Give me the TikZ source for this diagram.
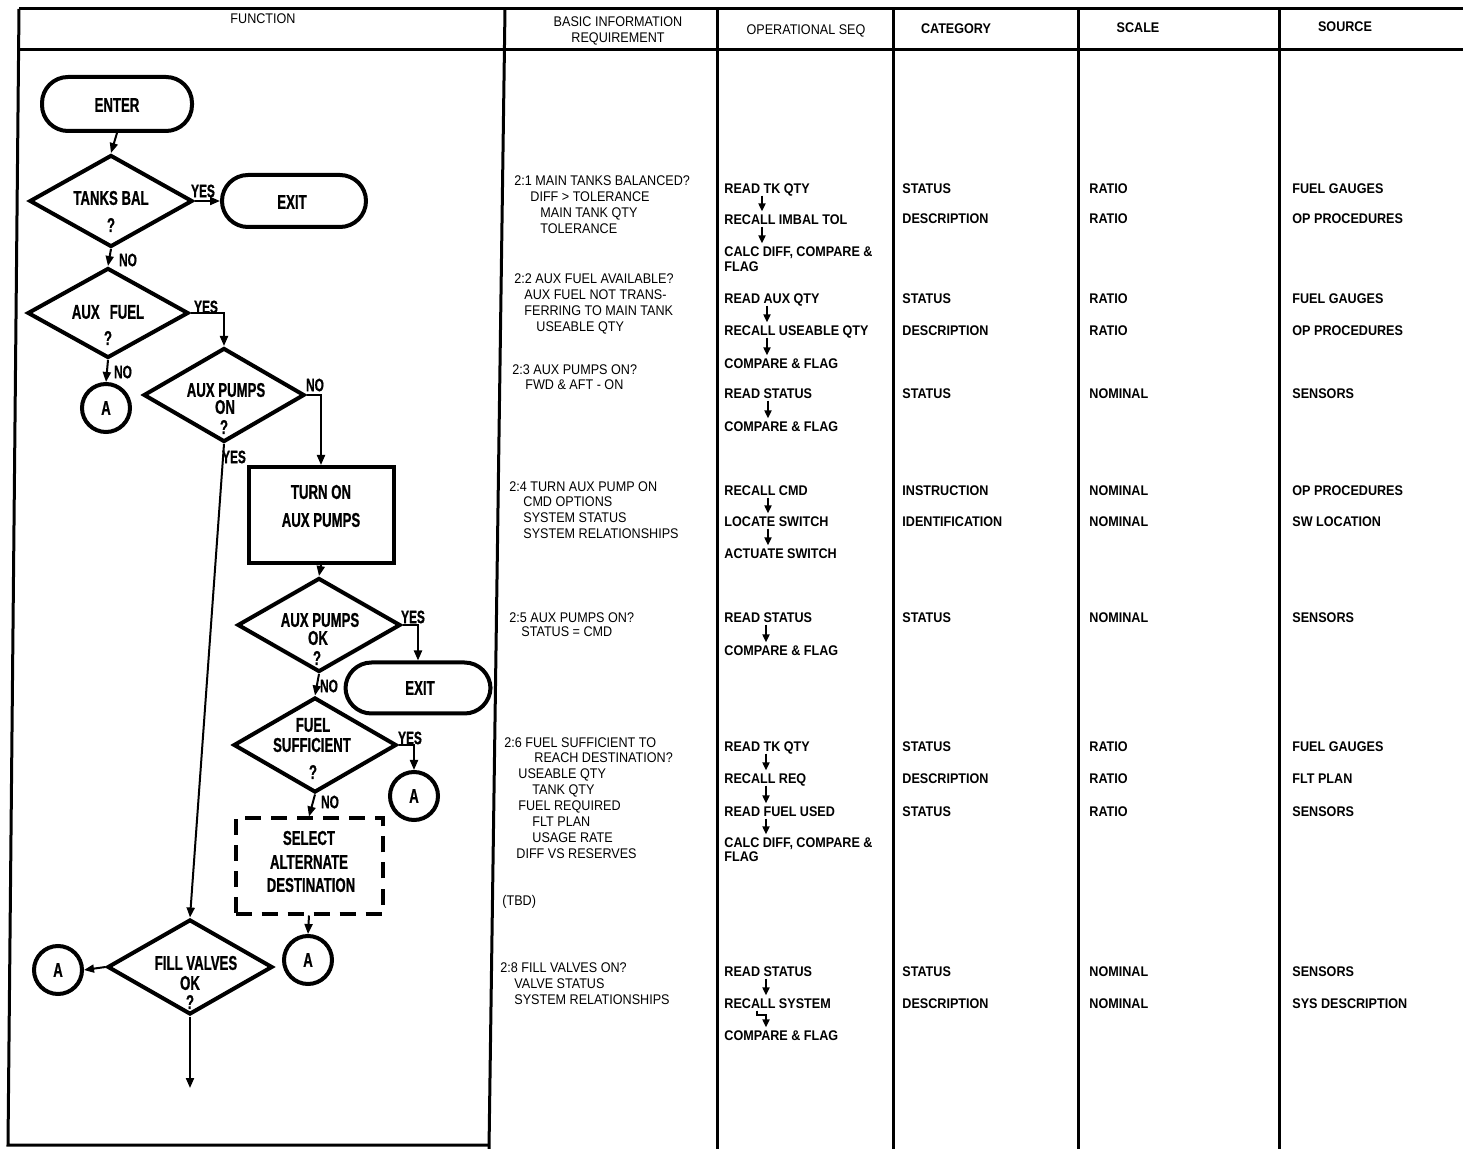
\documentclass[tikz,border=0pt]{standalone}
\usepackage{fontspec}
\setmainfont{Liberation Sans}
\newfontfamily\flowfont[FakeStretch=0.66,FakeBold=0.8]{Liberation Sans}
\newfontfamily\tabfont[FakeStretch=0.9]{Liberation Sans}
\usetikzlibrary{shapes.geometric,arrows.meta,calc}
\begin{document}
\begin{tikzpicture}[x=0.5pt,y=-0.5pt,
  ft/.style={font=\flowfont\bfseries\fontsize{10}{11}\selectfont, inner sep=0pt},
  lbl/.style={font=\flowfont\bfseries\fontsize{9}{10}\selectfont, inner sep=0pt},
  tx/.style={font=\tabfont\bfseries\fontsize{7}{8}\selectfont, anchor=west, inner sep=1pt, text height=5.2pt, text depth=0pt},
  tr/.style={font=\tabfont\fontsize{7}{8}\selectfont, anchor=west, inner sep=1pt, text height=5.2pt, text depth=0pt},
  hd/.style={font=\tabfont\fontsize{7}{8}\selectfont, align=center, inner sep=0pt},
  dia/.style={draw, diamond, line width=2pt, inner sep=0pt},
  term/.style={draw, rectangle, rounded corners=13pt, line width=2pt},
  pbox/.style={draw, rectangle, line width=2pt},
  dbox/.style={draw, rectangle, line width=2pt, dash pattern=on 8pt off 5pt},
  conn/.style={draw, circle, line width=2pt, minimum size=24pt, inner sep=0pt},
  arr/.style={line width=1pt, -{Triangle[length=5pt,width=4pt]}},
  sarr/.style={line width=0.9pt, -{Triangle[length=4pt,width=3.5pt]}},
  grid/.style={line width=1.5pt}
]
\useasboundingbox (0,0) rectangle (1463,1149);
% ---- table frame ----
\draw[grid] (19,9) -- (1463,9);
\draw[grid] (18,50) -- (1463,50);
\draw[grid] (19,9) -- (8,1145) -- (489,1145);
\draw[grid] (505,9) -- (489,1149);
\foreach \xx in {717,893,1078,1279} \draw[grid] (\xx,9) -- (\xx,1149);
% ---- header ----
\node[hd] (h1) at (263,19) {FUNCTION};
\node[hd] (h2) at (618,31) {BASIC INFORMATION\\REQUIREMENT};
\node[hd] (h3) at (806,31) {OPERATIONAL SEQ};
\node[hd,font=\tabfont\bfseries\fontsize{7}{8}\selectfont] (h4) at (956,29) {CATEGORY};
\node[hd,font=\tabfont\bfseries\fontsize{7}{8}\selectfont] (h5) at (1138,28) {SCALE};
\node[hd,font=\tabfont\bfseries\fontsize{7}{8}\selectfont] (h6) at (1345,27) {SOURCE};
% ---- flowchart shapes ----
\node[term, minimum width=75pt, minimum height=27pt] (enter) at (117,104) {};
\node[ft] (entert) at (117,105) {ENTER};
\node[dia, minimum width=81.5pt, minimum height=46pt] (tb) at (111,201) {};
\node[ft] (tbt1) at (111,198) {TANKS BAL};
\node[ft] (tbt2) at (111,225) {?};
\node[term, minimum width=72pt, minimum height=26pt] (exit1) at (294,201) {};
\node[ft] (exit1t) at (292,202) {EXIT};
\node[dia, minimum width=80.5pt, minimum height=45pt] (af) at (108,313) {};
\node[ft] (aft1) at (108,312) {AUX\enspace FUEL};
\node[ft] (aft2) at (108,338) {?};
\node[conn] (a1) at (106,408) {};
\node[ft] (a1t) at (106,408) {A};
\node[dia, minimum width=80.5pt, minimum height=47pt] (apo) at (224,395) {};
\node[ft] (apot1) at (226,390) {AUX PUMPS};
\node[ft] (apot2) at (225,407) {ON};
\node[ft] (apot3) at (224,427) {?};
\node[pbox, minimum width=72.5pt, minimum height=48pt] (tob) at (321,515) {};
\node[ft] (tobt1) at (321,492) {TURN ON};
\node[ft] (tobt2) at (321,520) {AUX PUMPS};
\node[dia, minimum width=81.5pt, minimum height=47pt] (apk) at (319,625) {};
\node[ft] (apkt1) at (320,620) {AUX PUMPS};
\node[ft] (apkt2) at (318,638) {OK};
\node[ft] (apkt3) at (317,658) {?};
\node[term, minimum width=72.5pt, minimum height=25.5pt] (exit2) at (418,688) {};
\node[ft] (exit2t) at (420,688) {EXIT};
\node[dia, minimum width=81.5pt, minimum height=47.5pt] (fs) at (315,745) {};
\node[ft] (fst1) at (313,725) {FUEL};
\node[ft] (fst2) at (312,745) {SUFFICIENT};
\node[ft] (fst3) at (313,772) {?};
\node[conn] (a2) at (414,796) {};
\node[ft] (a2t) at (414,796) {A};
\node[dbox, minimum width=73.5pt, minimum height=47.5pt] (dsel) at (309,866) {};
\node[ft] (dselt1) at (309,838) {SELECT};
\node[ft] (dselt2) at (309,862) {ALTERNATE};
\node[ft] (dselt3) at (311,885) {DESTINATION};
\node[conn] (a3) at (308,960) {};
\node[ft] (a3t) at (308,960) {A};
\node[dia, minimum width=82.5pt, minimum height=47.5pt] (fv) at (190,967) {};
\node[ft] (fvt1) at (196,963) {FILL VALVES};
\node[ft] (fvt2) at (190,983) {OK};
\node[ft] (fvt3) at (190,1002) {?};
\node[conn] (a4) at (58,970) {};
\node[ft] (a4t) at (58,970) {A};
\coordinate (fvend) at (190,1088);
% ---- flowchart connectors ----
\draw[arr] (enter.south) -- (tb.north);
\draw[arr] (tb.east) -- (exit1.west);
\node[lbl] (y1) at (203,191) {YES};
\draw[arr] (tb.south) -- (af.north);
\node[lbl] (n1) at (128,260) {NO};
\draw[arr] (af.east) -| (apo.north);
\node[lbl] (y2) at (206,307) {YES};
\draw[arr] (af.south) -- (a1.north);
\node[lbl] (n2) at (123,372) {NO};
\draw[arr] (apo.east) -| (tob.north);
\node[lbl] (n3) at (315,385) {NO};
\draw[arr] (apo.south) -- (fv.north);
\node[lbl] (y3) at (234,457) {YES};
\draw[arr] (tob.south) -- (apk.north);
\draw[arr] (apk.east) -| (exit2.north);
\node[lbl] (y4) at (413,617) {YES};
\draw[arr] (apk.south) -- (fs.north);
\node[lbl] (n4) at (329,686) {NO};
\draw[arr] (fs.east) -| (a2.north);
\node[lbl] (y5) at (410,738) {YES};
\draw[arr] (fs.south) -- (dsel.north);
\node[lbl] (n5) at (330,802) {NO};
\draw[arr] (dsel.south) -- (a3.north);
\draw[arr] (fv.west) -- (a4.east);
\draw[arr] (fv.south) -- (fvend);
% ---- basic information requirement ----
\node[tr] (b1a) at (512,180) {2:1 MAIN TANKS BALANCED?};
\node[tr] (b1b) at (528,196) {DIFF > TOLERANCE};
\node[tr] (b1c) at (538,212) {MAIN TANK QTY};
\node[tr] (b1d) at (538,228) {TOLERANCE};
\node[tr] (b2a) at (512,278) {2:2 AUX FUEL AVAILABLE?};
\node[tr] (b2b) at (522,294) {AUX FUEL NOT TRANS-};
\node[tr] (b2c) at (522,310) {FERRING TO MAIN TANK};
\node[tr] (b2d) at (534,326) {USEABLE QTY};
\node[tr] (b3a) at (510,369) {2:3 AUX PUMPS ON?};
\node[tr] (b3b) at (523,384) {FWD \& AFT - ON};
\node[tr] (b4a) at (507,486) {2:4 TURN AUX PUMP ON};
\node[tr] (b4b) at (521,501) {CMD OPTIONS};
\node[tr] (b4c) at (521,517) {SYSTEM STATUS};
\node[tr] (b4d) at (521,533) {SYSTEM RELATIONSHIPS};
\node[tr] (b5a) at (507,617) {2:5 AUX PUMPS ON?};
\node[tr] (b5b) at (519,631) {STATUS = CMD};
\node[tr] (b6a) at (502,742) {2:6 FUEL SUFFICIENT TO};
\node[tr] (b6b) at (532,757) {REACH DESTINATION?};
\node[tr] (b6c) at (516,773) {USEABLE QTY};
\node[tr] (b6d) at (530,789) {TANK QTY};
\node[tr] (b6e) at (516,805) {FUEL REQUIRED};
\node[tr] (b6f) at (530,821) {FLT PLAN};
\node[tr] (b6g) at (530,837) {USAGE RATE};
\node[tr] (b6h) at (514,853) {DIFF VS RESERVES};
\node[tr] (btbd) at (500,900) {(TBD)};
\node[tr] (b8a) at (498,967) {2:8 FILL VALVES ON?};
\node[tr] (b8b) at (512,983) {VALVE STATUS};
\node[tr] (b8c) at (512,999) {SYSTEM RELATIONSHIPS};
% ---- operational sequence ----
\node[tx] (s1) at (722,188) {READ TK QTY};
\node[tx] (s2) at (722,219) {RECALL IMBAL TOL};
\node[tx] (s3) at (722,251) {CALC DIFF, COMPARE \&};
\node[tx] (s3b) at (722,266) {FLAG};
\node[tx] (s4) at (722,298) {READ AUX QTY};
\node[tx] (s5) at (722,330) {RECALL USEABLE QTY};
\node[tx] (s6) at (722,363) {COMPARE \& FLAG};
\node[tx] (s7) at (722,393) {READ STATUS};
\node[tx] (s8) at (722,426) {COMPARE \& FLAG};
\node[tx] (s9) at (722,490) {RECALL CMD};
\node[tx] (s10) at (722,521) {LOCATE SWITCH};
\node[tx] (s11) at (722,553) {ACTUATE SWITCH};
\node[tx] (s12) at (722,617) {READ STATUS};
\node[tx] (s13) at (722,650) {COMPARE \& FLAG};
\node[tx] (s14) at (722,746) {READ TK QTY};
\node[tx] (s15) at (722,778) {RECALL REQ};
\node[tx] (s16) at (722,811) {READ FUEL USED};
\node[tx] (s17) at (722,842) {CALC DIFF, COMPARE \&};
\node[tx] (s17b) at (722,856) {FLAG};
\node[tx] (s18) at (722,971) {READ STATUS};
\node[tx] (s19) at (722,1003) {RECALL SYSTEM};
\node[tx] (s20) at (722,1035) {COMPARE \& FLAG};
\draw[sarr] ([xshift=20pt]s1.south west) -- ([xshift=20pt]s2.north west);
\draw[sarr] ([xshift=20pt]s2.south west) -- ([xshift=20pt]s3.north west);
\draw[sarr] ([xshift=22.5pt]s4.south west) -- ([xshift=22.5pt]s5.north west);
\draw[sarr] ([xshift=22.5pt]s5.south west) -- ([xshift=22.5pt]s6.north west);
\draw[sarr] ([xshift=23pt]s7.south west) -- ([xshift=23pt]s8.north west);
\draw[sarr] ([xshift=23pt]s9.south west) -- ([xshift=23pt]s10.north west);
\draw[sarr] ([xshift=23pt]s10.south west) -- ([xshift=23pt]s11.north west);
\draw[sarr] ([xshift=22pt]s12.south west) -- ([xshift=22pt]s13.north west);
\draw[sarr] ([xshift=22pt]s14.south west) -- ([xshift=22pt]s15.north west);
\draw[sarr] ([xshift=22pt]s15.south west) -- ([xshift=22pt]s16.north west);
\draw[sarr] ([xshift=22pt]s16.south west) -- ([xshift=22pt]s17.north west);
\draw[sarr] ([xshift=22pt]s18.south west) -- ([xshift=22pt]s19.north west);
\draw[sarr] ([xshift=17.5pt]s19.south west) -- ++(0,-2pt) -| ([xshift=22pt]s20.north west);
% ---- category / scale / source ----
\foreach \yy/\cc/\ss/\oo [count=\i] in {
  188/STATUS/RATIO/FUEL GAUGES,
  218/DESCRIPTION/RATIO/OP PROCEDURES,
  298/STATUS/RATIO/FUEL GAUGES,
  330/DESCRIPTION/RATIO/OP PROCEDURES,
  393/STATUS/NOMINAL/SENSORS,
  490/INSTRUCTION/NOMINAL/OP PROCEDURES,
  521/IDENTIFICATION/NOMINAL/SW LOCATION,
  617/STATUS/NOMINAL/SENSORS,
  746/STATUS/RATIO/FUEL GAUGES,
  778/DESCRIPTION/RATIO/FLT PLAN,
  811/STATUS/RATIO/SENSORS,
  971/STATUS/NOMINAL/SENSORS,
  1003/DESCRIPTION/NOMINAL/SYS DESCRIPTION}
{
  \node[tx] (cat\i) at (900,\yy) {\cc};
  \node[tx] (sca\i) at (1087,\yy) {\ss};
  \node[tx] (src\i) at (1290,\yy) {\oo};
}
\end{tikzpicture}
\end{document}
